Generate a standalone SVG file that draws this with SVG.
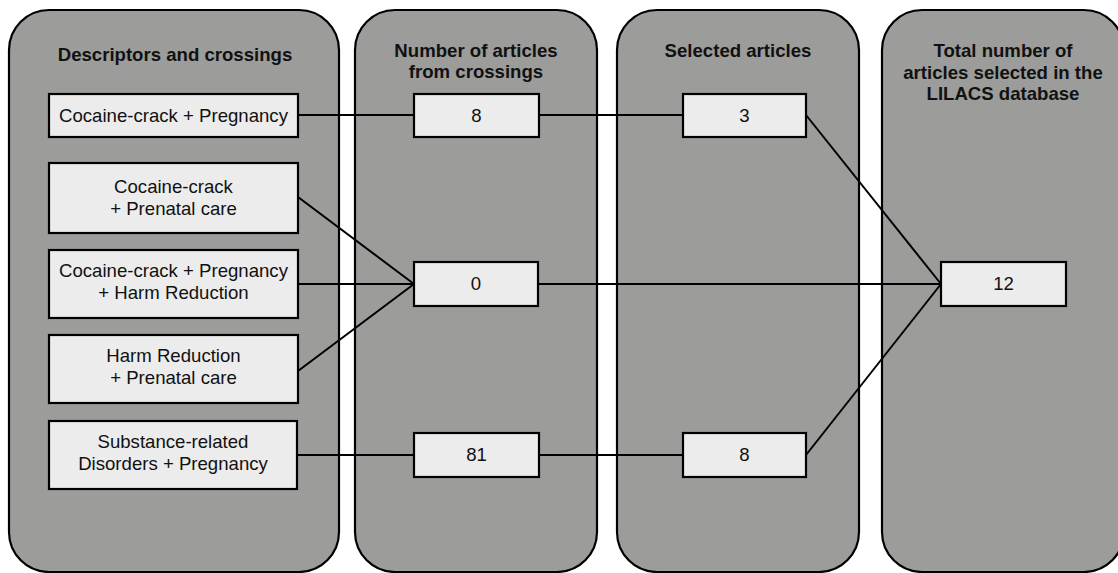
<svg xmlns="http://www.w3.org/2000/svg" width="1118" height="573" viewBox="0 0 1118 573">
<style>
.col{fill:#9c9c9a;stroke:#000;stroke-width:2.2}
.box{fill:#ececec;stroke:#000;stroke-width:2.2}
.hd{font-family:"Liberation Sans",Arial,sans-serif;font-weight:bold;font-size:18.6px;fill:#111;text-anchor:middle}
.tx{font-family:"Liberation Sans",Arial,sans-serif;font-size:18.6px;fill:#111;text-anchor:middle}
.ln{stroke:#000;stroke-width:2;fill:none}
</style>
<rect width="1118" height="573" fill="#fff"/>
<g id="col1"><rect class="col" x="9" y="10" width="330" height="562" rx="40"/><text class="hd" x="175" y="61">Descriptors and crossings</text></g>
<g id="col2"><rect class="col" x="355" y="10" width="242" height="562" rx="40"/><text class="hd" x="476" y="57">Number of articles</text><text class="hd" x="476" y="78">from crossings</text></g>
<g id="col3"><rect class="col" x="617" y="10" width="242" height="562" rx="40"/><text class="hd" x="738" y="57">Selected articles</text></g>
<g id="col4"><rect class="col" x="882" y="10" width="242" height="562" rx="40"/><text class="hd" x="1003" y="57">Total number of</text><text class="hd" x="1003" y="79">articles selected in the</text><text class="hd" x="1003" y="100">LILACS database</text></g>
<g id="connectors">
<line class="ln" x1="298" y1="115" x2="414" y2="115"/>
<line class="ln" x1="539" y1="115" x2="683" y2="115"/>
<line class="ln" x1="806" y1="115" x2="941" y2="284"/>
<line class="ln" x1="298" y1="197" x2="414" y2="284"/>
<line class="ln" x1="298" y1="284" x2="414" y2="284"/>
<line class="ln" x1="298" y1="371" x2="414" y2="284"/>
<line class="ln" x1="538" y1="284" x2="941" y2="284"/>
<line class="ln" x1="297" y1="455" x2="414" y2="455"/>
<line class="ln" x1="539" y1="455" x2="683" y2="455"/>
<line class="ln" x1="806" y1="455" x2="941" y2="284"/>
</g>
<g id="d1"><rect class="box" x="49" y="94" width="249" height="43"/><text class="tx" x="173.5" y="122">Cocaine-crack + Pregnancy</text></g>
<g id="d2"><rect class="box" x="49" y="163" width="249" height="70"/><text class="tx" x="173.5" y="193">Cocaine-crack</text><text class="tx" x="173.5" y="215">+ Prenatal care</text></g>
<g id="d3"><rect class="box" x="49" y="250" width="249" height="68"/><text class="tx" x="173.5" y="277">Cocaine-crack + Pregnancy</text><text class="tx" x="173.5" y="299">+ Harm Reduction</text></g>
<g id="d4"><rect class="box" x="49" y="335" width="249" height="68"/><text class="tx" x="173.5" y="362">Harm Reduction</text><text class="tx" x="173.5" y="384">+ Prenatal care</text></g>
<g id="d5"><rect class="box" x="49" y="421" width="248" height="68"/><text class="tx" x="173" y="448">Substance-related</text><text class="tx" x="173" y="470">Disorders + Pregnancy</text></g>
<g id="n8"><rect class="box" x="414" y="94" width="125" height="43"/><text class="tx" x="476.5" y="122">8</text></g>
<g id="n0"><rect class="box" x="414" y="262" width="124" height="44"/><text class="tx" x="476" y="290">0</text></g>
<g id="n81"><rect class="box" x="414" y="433" width="125" height="44"/><text class="tx" x="476.5" y="461">81</text></g>
<g id="s3"><rect class="box" x="683" y="94" width="123" height="43"/><text class="tx" x="744.5" y="122">3</text></g>
<g id="s8"><rect class="box" x="683" y="433" width="123" height="44"/><text class="tx" x="744.5" y="461">8</text></g>
<g id="t12"><rect class="box" x="941" y="262" width="125" height="44"/><text class="tx" x="1003.5" y="290">12</text></g>
</svg>
